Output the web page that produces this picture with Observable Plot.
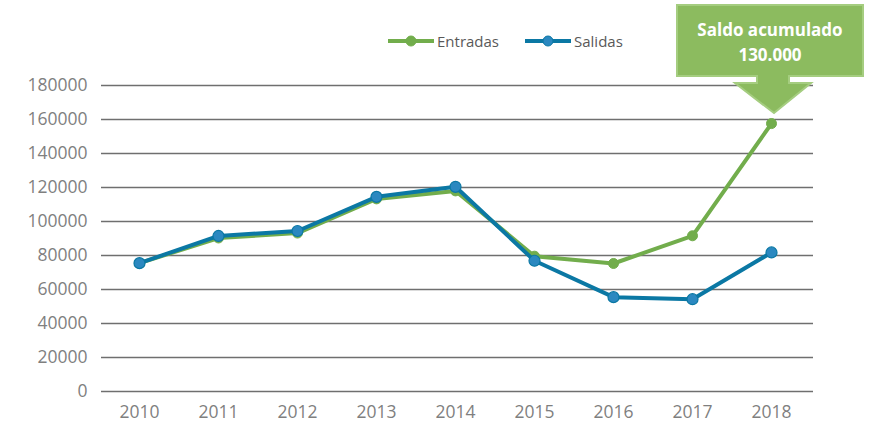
<!DOCTYPE html>
<html>
<head>
<meta charset="utf-8">
<script src="https://cdn.jsdelivr.net/npm/d3@7"></script>
<script src="https://cdn.jsdelivr.net/npm/@observablehq/plot@0.6"></script>
<style>
  html, body { margin: 0; padding: 0; background: #fff; }
  #chart { position: relative; width: 870px; height: 427px; font-family: "Open Sans", sans-serif; }
  #legend { position: absolute; top: 31px; left: 388px; display: flex; gap: 26px; font-size: 15px; color: #595959; }
  .item { display: flex; align-items: center; }
  .item span { margin-left: 3px; }
</style>
</head>
<body>
<div id="chart"><div id="legend"></div></div>
<script>
const years = ["2010","2011","2012","2013","2014","2015","2016","2017","2018"];
const entradas = [75500, 90300, 93200, 113300, 118000, 79600, 75300, 91600, 157600];
const salidas  = [75500, 91500, 94400, 114500, 120400, 76900, 55500, 54300, 81800];
const yTicks = [0, 20000, 40000, 60000, 80000, 100000, 120000, 140000, 160000, 180000];
const seriesNames = ["Entradas", "Salidas"];
const calloutLines = ["Saldo acumulado", "130.000"];

const colors = { Entradas: "#72ad4c", Salidas: "#0b78a4" };
const markerFill = { Entradas: "#72ad4c", Salidas: "#2b88c0" };

const data = [];
years.forEach((y, i) => {
  data.push({ year: y, series: "Entradas", value: entradas[i] });
  data.push({ year: y, series: "Salidas", value: salidas[i] });
});

const plot = Plot.plot({
  width: 870,
  height: 427,
  marginLeft: 101,
  marginRight: 57,
  marginTop: 85,
  marginBottom: 36,
  style: { fontFamily: "Open Sans, sans-serif", fontSize: "17.5px", color: "#7f7f7f", background: "#fff" },
  x: { type: "point", domain: years, range: [137, 773], padding: 0, label: null, tickSize: 0, tickPadding: 14 },
  y: { domain: [0, 180000], ticks: yTicks, label: null, tickSize: 0, tickPadding: 14, tickFormat: d => String(d) },
  marks: [
    Plot.ruleY(yTicks, { stroke: "#6f6f6f", strokeWidth: 1.3 }),
    Plot.line(data.filter(d => d.series === "Entradas"), { x: "year", y: "value", stroke: colors.Entradas, strokeWidth: 4 }),
    Plot.dot(data.filter(d => d.series === "Entradas"), { x: "year", y: "value", r: 5, fill: markerFill.Entradas, stroke: colors.Entradas, strokeWidth: 1 }),
    Plot.line(data.filter(d => d.series === "Salidas"), { x: "year", y: "value", stroke: colors.Salidas, strokeWidth: 4 }),
    Plot.dot(data.filter(d => d.series === "Salidas"), { x: "year", y: "value", r: 5.5, fill: markerFill.Salidas, stroke: colors.Salidas, strokeWidth: 1.2 })
  ]
});

d3.select(plot).selectAll("[aria-label='y-axis tick label'] text, [aria-label='x-axis tick label'] text").attr("fill", "#7f7f7f");

// Callout anchored to the last Entradas point via the plot's scales
const px = plot.scale("x").apply(years[years.length - 1]);
const py = plot.scale("y").apply(entradas[entradas.length - 1]);
const svg = d3.select(plot);
const g = svg.append("g");
const boxL = px - 94, boxR = px + 92, boxT = py - 118, boxB = py - 47;
const stemL = px - 14, stemR = px + 18, headY = py - 40, headL = px - 36, headR = px + 40, tipX = px + 3, tipY = py - 10;
const path = `M${boxL},${boxT}H${boxR}V${boxB}H${stemR}V${headY}H${headR}L${tipX},${tipY}L${headL},${headY}H${stemL}V${boxB}H${boxL}Z`;
g.append("path").attr("d", path).attr("fill", "#8cbb5f").attr("stroke", "#a5cd80").attr("stroke-width", 2);
g.selectAll("text").data(calloutLines).join("text")
  .attr("x", (boxL + boxR) / 2)
  .attr("y", (d, i) => boxT + 31 + i * 25)
  .attr("text-anchor", "middle")
  .attr("fill", "#fff")
  .attr("font-weight", "bold")
  .attr("font-size", 17)
  .attr("font-family", "Open Sans, sans-serif")
  .text(d => d);

document.getElementById("chart").prepend(plot);

// Legend
const legend = d3.select("#legend");
seriesNames.forEach(name => {
  const it = legend.append("div").attr("class", "item");
  const s = it.append("svg").attr("width", 46).attr("height", 12);
  s.append("line").attr("x1", 0).attr("x2", 46).attr("y1", 6).attr("y2", 6).attr("stroke", colors[name]).attr("stroke-width", 4);
  s.append("circle").attr("cx", 23).attr("cy", 6).attr("r", 5).attr("fill", markerFill[name]).attr("stroke", colors[name]);
  it.append("span").text(name);
});
</script>
</body>
</html>
